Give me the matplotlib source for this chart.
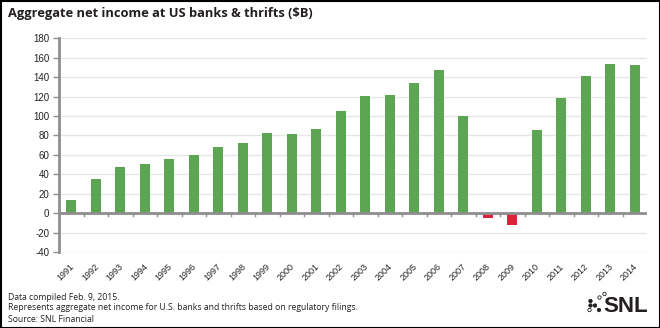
import matplotlib
matplotlib.use("Agg")
import matplotlib.pyplot as plt
from matplotlib.patches import Rectangle, Circle

years = [str(y) for y in range(1991, 2015)]
net_income = [14, 35.5, 47.5, 51, 56, 59.5, 68, 72, 82.5, 81.5, 86.5, 105,
              120.5, 122, 134, 147.5, 99.5, -5, -12.5, 85.5, 118.5, 141, 154, 152]
y_ticks = list(range(-40, 181, 20))

title = "Aggregate net income at US banks & thrifts ($B)"
notes = ["Data compiled Feb. 9, 2015.",
         "Represents aggregate net income for U.S. banks and thrifts based on regulatory filings.",
         "Source: SNL Financial"]

GREEN = "#5ba553"
RED = "#dc2339"
AXIS_GRAY = "#8e8e8e"
GRID_GRAY = "#e6e6e6"
INK = "#231f20"

fig = plt.figure(figsize=(6.6, 3.28), dpi=100)
ax = fig.add_axes([59 / 660, 1 - 252 / 328, (647 - 59) / 660, (252 - 38.3) / 328])

x = list(range(len(years)))
colors = [GREEN if v >= 0 else RED for v in net_income]
ax.bar(x, net_income, width=0.42, color=colors, zorder=3)

ax.set_xlim(-0.5, len(years) - 0.5)
ax.set_ylim(-40, 180)
ax.set_yticks(y_ticks)
ax.set_yticklabels([str(t) for t in y_ticks], fontsize=7, family="Liberation Sans", color="#222222")
ax.yaxis.grid(True, color=GRID_GRAY, linewidth=1, zorder=0)
ax.tick_params(axis="y", length=4, width=1, color=AXIS_GRAY, pad=3)

# Category labels sit below the plot, ticks drawn on the zero line
ax.set_xticks(x)
ax.set_xticklabels([])
ax.tick_params(axis="x", length=0)
for i, yr in enumerate(years):
    ax.text(i + 0.06, -53.5, yr, rotation=45, ha="right", va="center", fontsize=6.5,
            family="Liberation Sans", color="#222222", rotation_mode="anchor")
for i in range(1, len(years)):
    ax.plot([i - 0.5, i - 0.5], [0, -2.5], color=AXIS_GRAY, lw=1, zorder=4, clip_on=False)

ax.axhline(0, color=AXIS_GRAY, lw=2, zorder=4)
for side in ["top", "right", "bottom"]:
    ax.spines[side].set_visible(False)
ax.spines["left"].set_color(AXIS_GRAY)
ax.spines["left"].set_linewidth(2)

fig.text(8 / 660, 1 - 14 / 328, title, fontsize=9.3, fontweight="bold",
         family="Open Sans", color=INK, va="center", ha="left")

for k, line in enumerate(notes):
    fig.text(8 / 660, 1 - (297 + 11 * k) / 328, line, fontsize=6.2,
             family="Open Sans", color=INK, va="center", ha="left")

# SNL mark: dot cluster plus wordmark
logo_ax = fig.add_axes([0, 0, 1, 1], facecolor="none")
logo_ax.set_xlim(0, 660)
logo_ax.set_ylim(328, 0)
logo_ax.axis("off")
dots = [(590.5, 301, True), (590.5, 305.5, True), (595, 305.5, True), (599, 310, True),
        (599.5, 297.5, False), (604.5, 294, False), (589.5, 310, False)]
for cx, cy, filled in dots:
    logo_ax.add_patch(Circle((cx, cy), 1.7, facecolor=INK if filled else "white",
                             edgecolor=INK, lw=0.6))
logo_ax.text(603, 306, "SNL", fontsize=16, fontweight="bold", family="Liberation Sans",
             color=INK, va="center", ha="left")
logo_ax.add_patch(Rectangle((0.5, 0.5), 659, 327, fill=False, edgecolor="black", lw=1.5))

fig.savefig("out.png", dpi=100)
